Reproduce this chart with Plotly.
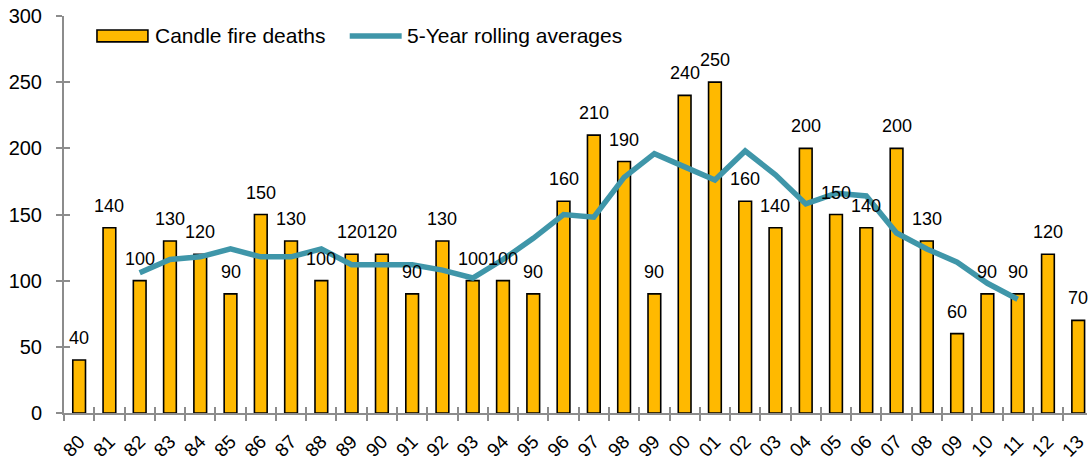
import plotly.graph_objects as go

# Year labels (two-digit), 1980-2013
years = ["80", "81", "82", "83", "84", "85", "86", "87", "88", "89",
         "90", "91", "92", "93", "94", "95", "96", "97", "98", "99",
         "00", "01", "02", "03", "04", "05", "06", "07", "08", "09",
         "10", "11", "12", "13"]

# Civilian deaths in home fires started by candles
candle_deaths = [40, 140, 100, 130, 120, 90, 150, 130, 100, 120,
                 120, 90, 130, 100, 100, 90, 160, 210, 190, 90,
                 240, 250, 160, 140, 200, 150, 140, 200, 130, 60,
                 90, 90, 120, 70]

# Centered five-year rolling averages (1982-2011)
avg_years = ["82", "83", "84", "85", "86", "87", "88", "89", "90", "91",
             "92", "93", "94", "95", "96", "97", "98", "99", "00", "01",
             "02", "03", "04", "05", "06", "07", "08", "09", "10", "11"]
rolling_avg = [106, 116, 118, 124, 118, 118, 124, 112, 112, 112,
               108, 102, 116, 132, 150, 148, 178, 196, 186, 176,
               198, 180, 158, 166, 164, 136, 124, 114, 98, 86]

y_ticks = [0, 50, 100, 150, 200, 250, 300]

BAR_COLOR = "#FFB900"
LINE_COLOR = "#3F96A9"
AXIS_COLOR = "#8C8C8C"
FONT = "Liberation Sans, Arial, sans-serif"

W, H = 1088, 461
ML, MR, MT, MB = 64, 0, 16, 46
X_RANGE = [-0.5, 33.29]

fig = go.Figure()

fig.add_trace(go.Bar(
    x=years, y=candle_deaths, name="Candle fire deaths",
    marker=dict(color=BAR_COLOR, line=dict(color="#000000", width=1.6)),
    width=0.42, showlegend=False,
))

fig.add_trace(go.Scatter(
    x=avg_years, y=rolling_avg, name="5-Year rolling averages",
    mode="lines", line=dict(color=LINE_COLOR, width=5.5),
    showlegend=False, cliponaxis=False,
))

# Empty trace that anchors the overlay axes used for the inner half of the ticks
fig.add_trace(go.Scatter(x=[], y=[], xaxis="x2", yaxis="y2",
                         showlegend=False, hoverinfo="skip"))

# Value labels above each bar (category axis addressed by position index,
# since labels such as "00" or "12" would otherwise be read as numbers)
for i, v in enumerate(candle_deaths):
    fig.add_annotation(x=i, y=v, text=str(v), showarrow=False,
                       yanchor="middle", yshift=22,
                       font=dict(family=FONT, size=18, color="#000000"))

# Legend drawn in the top-left corner of the plot area
def px_x(p):
    return (p - ML) / (W - ML - MR)

def px_y(p):
    return (H - MB - p) / (H - MT - MB)

fig.add_shape(type="rect", xref="paper", yref="paper",
              x0=px_x(97), x1=px_x(148), y0=px_y(42), y1=px_y(30),
              fillcolor=BAR_COLOR, line=dict(color="#000000", width=1.6))
fig.add_annotation(xref="paper", yref="paper", x=px_x(153), y=px_y(36),
                   xanchor="left", yanchor="middle", showarrow=False,
                   text="Candle fire deaths",
                   font=dict(family=FONT, size=21, color="#000000"))
fig.add_shape(type="line", xref="paper", yref="paper",
              x0=px_x(350), x1=px_x(402), y0=px_y(36), y1=px_y(36),
              line=dict(color=LINE_COLOR, width=5.5))
fig.add_annotation(xref="paper", yref="paper", x=px_x(405), y=px_y(36),
                   xanchor="left", yanchor="middle", showarrow=False,
                   text="5-Year rolling averages",
                   font=dict(family=FONT, size=21, color="#000000"))

fig.update_layout(
    width=W, height=H,
    margin=dict(l=ML, r=MR, t=MT, b=MB, pad=0),
    paper_bgcolor="#FFFFFF", plot_bgcolor="#FFFFFF",
    font=dict(family=FONT, color="#000000"),
    bargap=0.58,
    xaxis=dict(
        type="category", range=X_RANGE,
        showline=True, linecolor=AXIS_COLOR, linewidth=2,
        ticks="outside", tickson="boundaries", ticklen=6, tickwidth=2,
        tickcolor=AXIS_COLOR, tickangle=-45,
        tickfont=dict(family=FONT, size=19, color="#000000"),
        ticklabelstandoff=8,
        showgrid=False, zeroline=False, fixedrange=True,
    ),
    yaxis=dict(
        range=[0, 300], tickvals=y_ticks,
        showline=True, linecolor=AXIS_COLOR, linewidth=2,
        ticks="outside", ticklen=6, tickwidth=2, tickcolor=AXIS_COLOR,
        tickfont=dict(family=FONT, size=20, color="#000000"),
        ticklabelstandoff=10,
        showgrid=False, zeroline=False, fixedrange=True,
    ),
    xaxis2=dict(
        overlaying="x", anchor="y2", side="bottom", range=X_RANGE,
        tickmode="linear", tick0=-0.5, dtick=1,
        ticks="inside", ticklen=6, tickwidth=2, tickcolor=AXIS_COLOR,
        showticklabels=False, showline=False, showgrid=False,
        zeroline=False, fixedrange=True,
    ),
    yaxis2=dict(
        overlaying="y", anchor="x2", side="left", range=[0, 300],
        tickvals=y_ticks,
        ticks="inside", ticklen=6, tickwidth=2, tickcolor=AXIS_COLOR,
        showticklabels=False, showline=False, showgrid=False,
        zeroline=False, fixedrange=True,
    ),
)

fig.write_html("out.html")
